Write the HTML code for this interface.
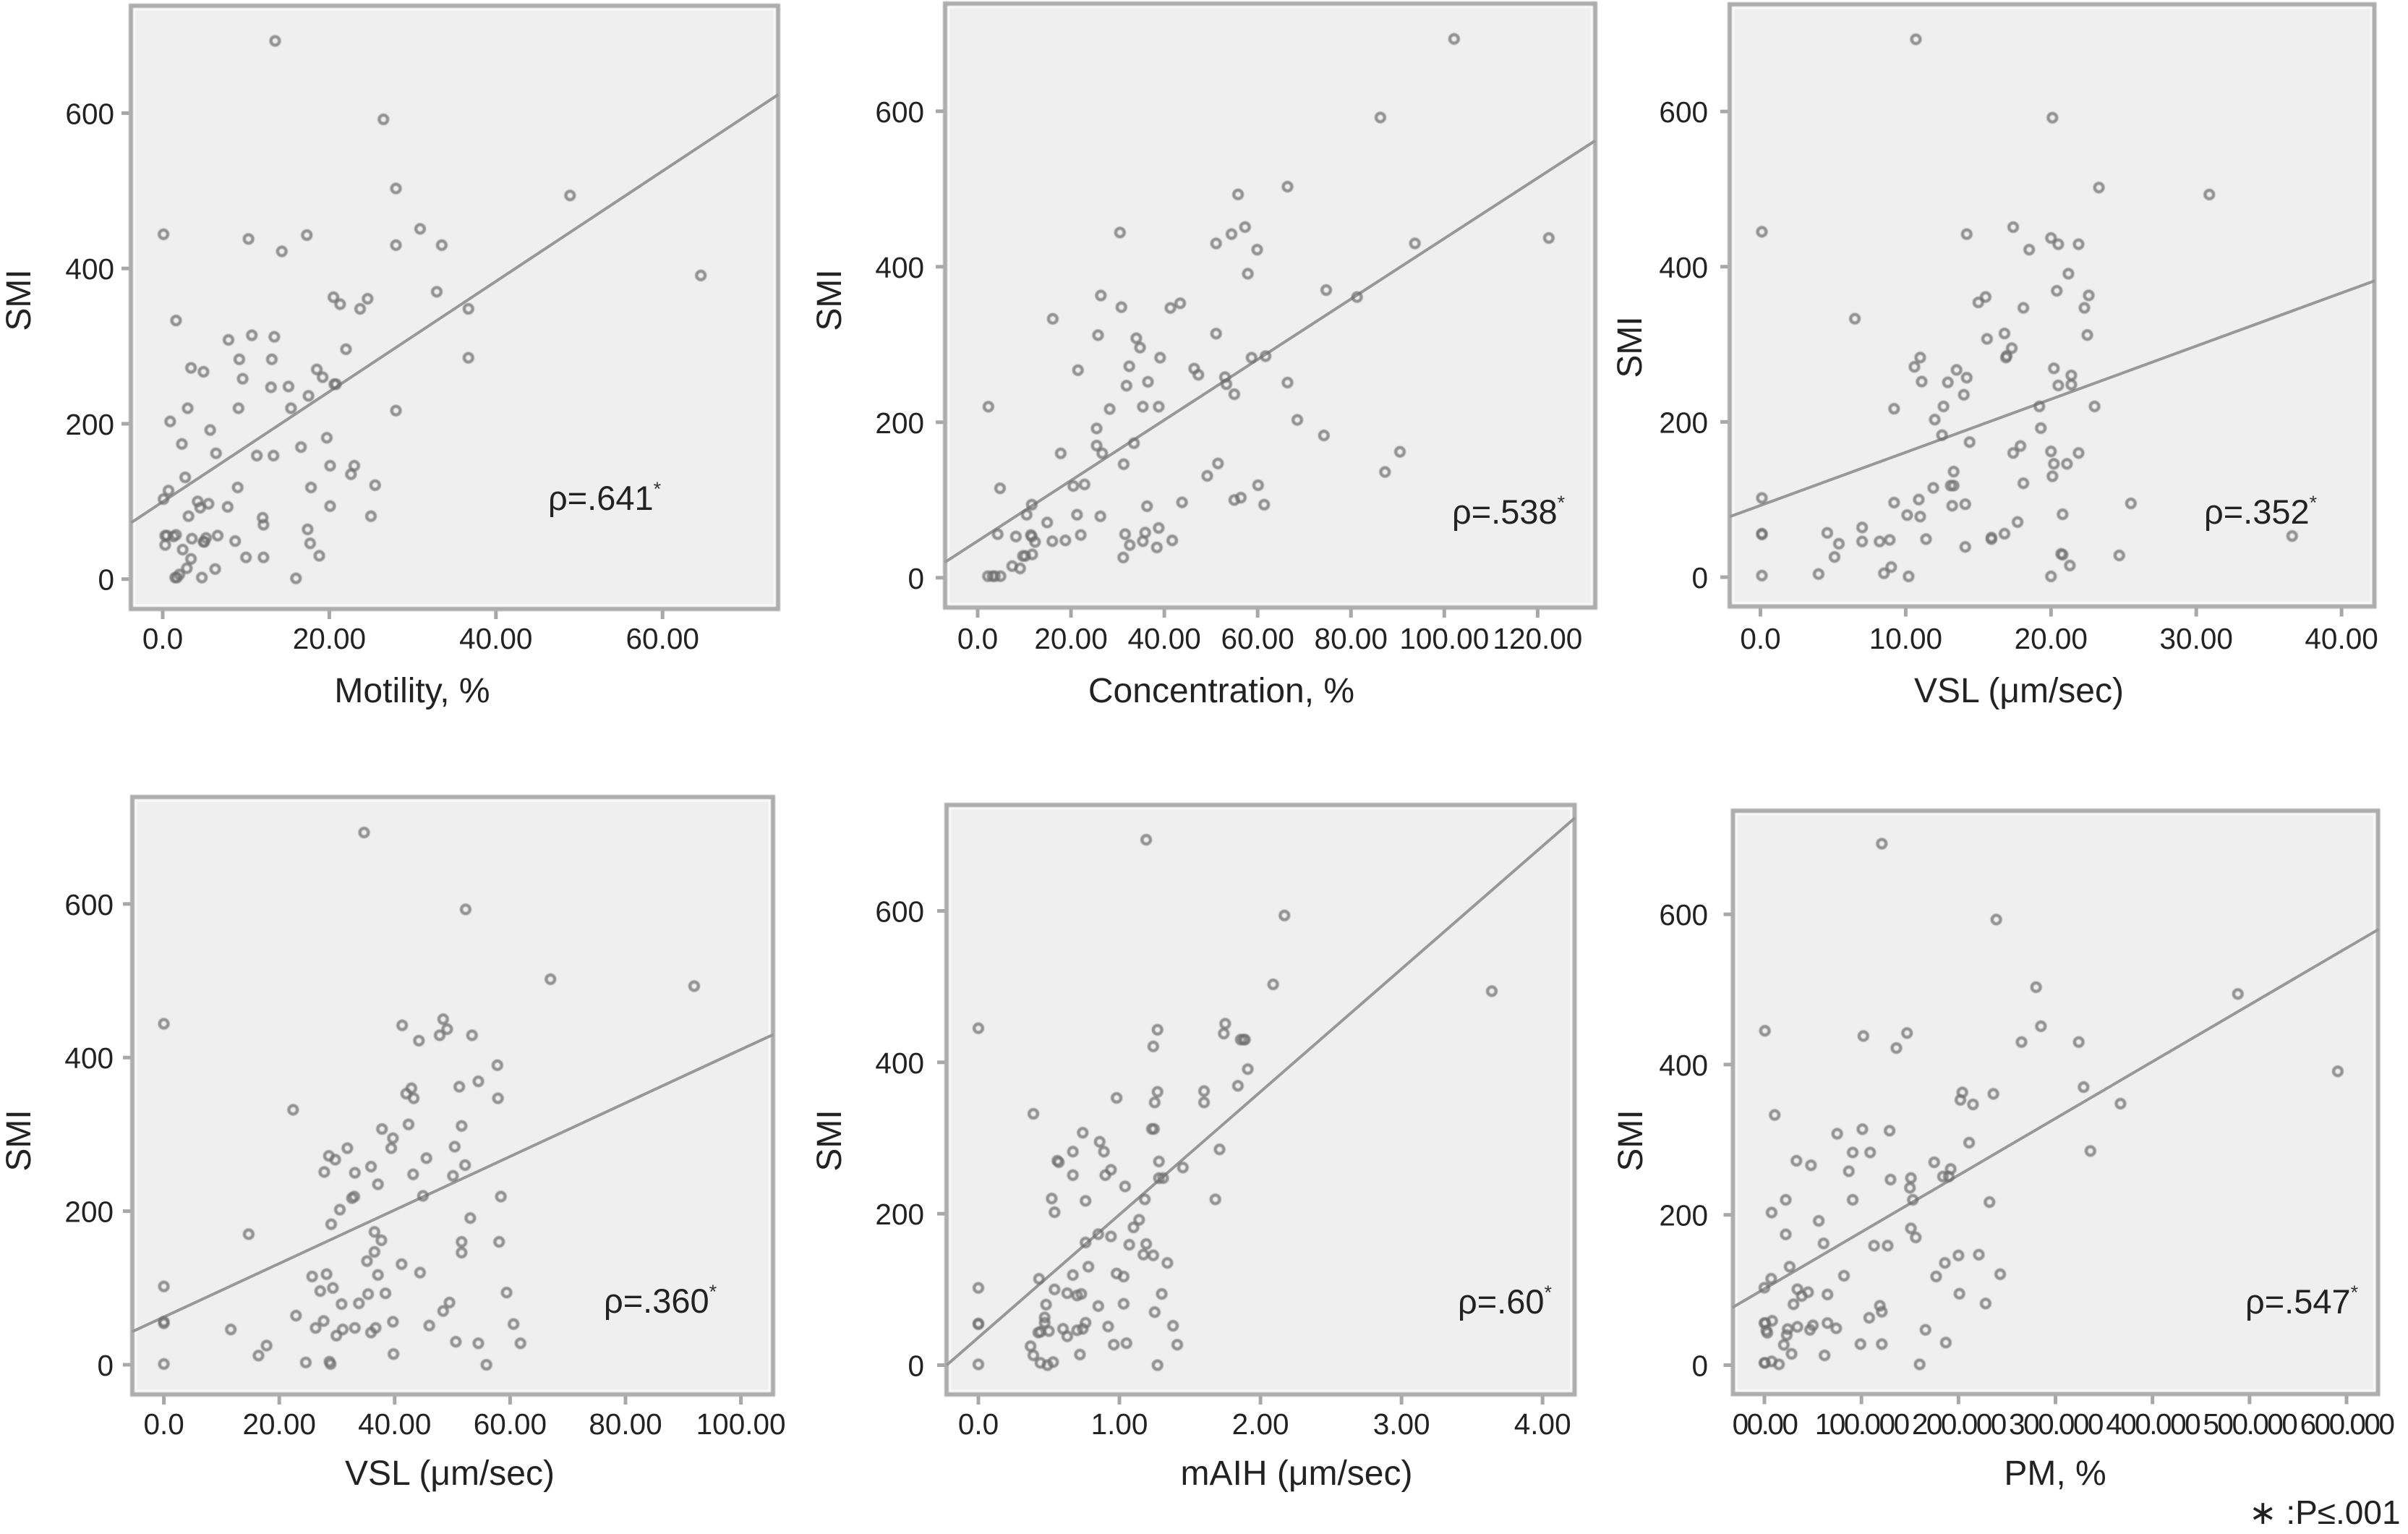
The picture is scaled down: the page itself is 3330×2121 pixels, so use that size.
<!DOCTYPE html>
<html lang="en">
<head>
<meta charset="utf-8">
<title>SMI scatter plots</title>
<style>
html,body{margin:0;padding:0;background:#fff;}
svg{display:block;font-family:"Liberation Sans",sans-serif;}
.tick-label{font-size:40.5px;fill:#222;}
.pm .tick-label{letter-spacing:-2.5px;}
.axis-title{font-size:48px;fill:#222;text-anchor:middle;}
.rho{font-size:47px;fill:#222;}
.star{font-size:27px;fill:#333;}
</style>
</head>
<body>
<svg id="figure" width="3330" height="2121" viewBox="0 0 3330 2121" xmlns="http://www.w3.org/2000/svg">
<defs><filter id="soft" x="-5%" y="-5%" width="110%" height="110%"><feGaussianBlur stdDeviation="0.8"/></filter></defs>
<rect width="3330" height="2121" fill="#fff"/>

<g id="p1"></g>
<g id="p2"></g>
<g id="p3"></g>
<g id="p4"></g>
<g id="p5"></g>
<g id="p6" class="pm"></g>

<g>
<text class="axis-title" transform="translate(42,415) rotate(-90)">SMI</text>
<text class="axis-title" transform="translate(1163,415) rotate(-90)">SMI</text>
<text class="axis-title" transform="translate(2270,480) rotate(-90)">SMI</text>
<text class="axis-title" transform="translate(42,1577) rotate(-90)">SMI</text>
<text class="axis-title" transform="translate(1163,1577) rotate(-90)">SMI</text>
<text class="axis-title" transform="translate(2271,1577) rotate(-90)">SMI</text>
</g>

<g>
<text class="axis-title" x="570" y="971">Motility, %</text>
<text class="axis-title" x="1689" y="971">Concentration, %</text>
<text class="axis-title" x="2792" y="971">VSL (μm/sec)</text>
<text class="axis-title" x="622" y="2053">VSL (μm/sec)</text>
<text class="axis-title" x="1793" y="2053">mAIH (μm/sec)</text>
<text class="axis-title" x="2842" y="2053">PM, %</text>
</g>

<g>
<text class="rho" x="758" y="705">ρ=.641<tspan class="star" dy="-20">*</tspan></text>
<text class="rho" x="2008" y="724">ρ=.538<tspan class="star" dy="-20">*</tspan></text>
<text class="rho" x="3048" y="724">ρ=.352<tspan class="star" dy="-20">*</tspan></text>
<text class="rho" x="835" y="1815">ρ=.360<tspan class="star" dy="-20">*</tspan></text>
<text class="rho" x="2016" y="1816">ρ=.60<tspan class="star" dy="-20">*</tspan></text>
<text class="rho" x="3105" y="1816">ρ=.547<tspan class="star" dy="-20">*</tspan></text>
</g>

<text x="3110" y="2107" font-size="46" fill="#222">∗ :P≤.001</text>
</svg>

<script>
const smiTicks = [0, 200, 400, 600];
const smiTickLabels = ["0", "200", "400", "600"];

const motilityTicks = [0, 20, 40, 60];
const motilityTickLabels = ["0.0", "20.00", "40.00", "60.00"];
const motilityX = [13.5,26.5,28.0,48.9,0.1,10.3,17.3,14.3,30.9,28.0,33.5,64.6,20.5,21.3,24.6,23.7,32.9,36.7,1.6,7.9,10.7,13.4,22.0,9.2,13.1,36.7,3.4,4.9,18.5,19.2,9.6,13.0,15.1,20.6,20.8,17.5,3.0,9.1,15.4,28.0,0.9,5.7,19.7,2.3,16.6,6.4,11.3,13.3,23.0,20.1,22.6,2.7,25.5,9.0,17.8,0.7,0.1,4.2,5.5,4.5,7.8,20.1,3.1,12.0,25.0,12.1,17.4,0.3,0.5,1.6,1.3,0.3,3.5,6.6,5.2,4.9,5.0,8.7,17.7,2.4,10.0,12.1,18.8,3.4,2.9,6.3,2.0,1.5,1.7,4.7,16.0];
const motilityY = [693,592,503,494,444,438,443,422,451,430,430,391,363,354,361,348,370,348,333,308,314,312,296,283,283,285,272,267,270,260,258,247,248,251,251,236,220,220,220,217,203,192,182,174,170,162,159,159,146,146,135,131,121,118,118,114,103,100,97,92,93,94,81,79,81,70,64,56,56,57,55,44,52,56,53,48,48,49,46,38,28,28,30,26,14,13,6,2,2,2,1];
const motilityLineX = [-3.8, 73.9];
const motilityLineY = [72.5, 624];

const concentrationTicks = [0, 20, 40, 60, 80, 100, 120];
const concentrationTickLabels = ["0.0", "20.00", "40.00", "60.00", "80.00", "100.00", "120.00"];
const concentrationX = [102.1,86.3,66.4,55.8,57.3,54.4,30.5,51.1,59.9,93.7,122.4,57.9,74.7,81.3,26.4,30.8,41.3,43.4,16.1,25.8,51.1,34.0,34.8,39.1,58.7,61.7,21.5,32.5,46.4,47.3,53.0,53.3,36.5,31.9,66.4,55.0,2.3,28.3,35.4,38.8,68.5,25.5,74.2,33.5,25.5,26.7,17.8,90.5,31.3,51.5,87.3,49.2,22.9,20.5,60.1,4.8,55.0,56.4,43.8,61.4,36.3,11.6,10.5,21.3,26.3,14.9,38.8,4.3,8.2,11.4,11.6,12.3,22.1,31.6,35.9,35.4,41.7,16.0,18.8,32.6,38.4,11.7,9.7,10.2,31.2,7.4,9.1,2.2,3.2,3.7,4.9];
const concentrationY = [693,592,503,493,451,442,444,430,422,430,437,391,370,361,363,348,347,353,333,312,314,308,296,283,283,285,267,272,269,261,258,249,252,247,251,236,220,217,220,220,203,192,183,173,170,160,160,162,146,147,136,131,120,118,119,115,100,103,97,94,92,94,81,81,79,71,64,56,53,55,53,46,55,56,58,47,48,47,48,42,39,30,28,28,26,15,12,2,2,2,2];
const concentrationLineX = [-7.0, 132.3];
const concentrationLineY = [20, 562];

const vslTopTicks = [0, 10, 20, 30, 40];
const vslTopTickLabels = ["0.0", "10.00", "20.00", "30.00", "40.00"];
const vslTopX = [10.7,20.1,23.3,30.9,0.1,14.2,17.4,18.5,20.0,20.5,21.9,21.2,20.4,22.6,22.3,15.5,15.0,18.1,6.5,22.5,16.8,15.6,17.3,16.9,16.95,11.0,10.6,13.5,14.2,20.2,21.4,11.1,12.9,20.5,21.4,14.0,9.2,12.6,19.2,23.0,12.0,19.3,12.5,14.4,17.9,17.4,20.0,21.9,20.2,21.1,13.3,20.1,18.1,13.1,13.3,11.9,0.1,10.9,9.2,14.1,13.2,25.5,10.1,11.0,20.8,17.7,7.0,4.6,0.1,0.1,16.8,36.6,15.9,15.9,11.4,8.9,8.2,7.0,5.4,14.1,5.1,24.7,20.7,20.8,21.3,9.0,8.5,4.0,0.1,10.2,20.0];
const vslTopY = [693,592,502,493,445,442,451,422,437,429,429,391,369,363,347,361,354,347,333,312,314,307,295,283,285,283,271,267,257,269,260,252,251,247,248,235,217,220,220,220,203,192,183,174,169,160,162,160,146,146,136,130,121,118,118,115,102,100,96,94,92,95,80,78,81,71,64,57,56,55,56,53,51,49,49,48,46,46,43,39,26,28,30,29,15,13,5,4,2,1,1];
const vslTopLineX = [-2.1, 42.3];
const vslTopLineY = [78, 382];

const vslBottomTicks = [0, 20, 40, 60, 80, 100];
const vslBottomTickLabels = ["0.0", "20.00", "40.00", "60.00", "80.00", "100.00"];
const vslBottomX = [34.7,52.3,67.0,91.9,0,41.3,48.4,49.1,47.8,53.4,44.2,57.8,54.5,51.2,42.9,42.0,43.3,57.9,22.4,42.4,51.6,37.8,39.7,50.4,39.4,31.8,28.6,29.7,45.5,52.2,35.9,27.8,33.1,43.2,50.1,37.1,32.6,33.0,44.9,58.4,30.5,53.1,29.0,14.7,36.5,37.7,51.6,58.1,36.5,51.6,35.2,41.2,44.4,28.2,37.1,25.7,0,29.3,27.1,59.4,38.4,35.4,30.8,33.8,49.5,48.4,22.9,39.7,0,0,27.7,60.6,46.0,26.3,36.7,33.1,31.0,11.6,35.9,29.9,17.8,50.6,54.5,61.8,16.4,39.8,24.6,28.7,28.9,0,55.9];
const vslBottomY = [693,593,502,493,444,442,450,437,429,429,422,390,369,362,360,353,347,347,332,313,311,307,295,284,282,282,272,267,269,260,258,251,250,248,246,235,217,219,220,219,202,191,183,170,173,162,160,160,147,146,135,131,120,118,117,115,102,100,96,94,93,92,79,80,81,70,64,56,56,54,57,53,51,48,48,48,46,46,42,38,25,30,28,28,12,14,3,4,1,1,0];
const vslBottomLineX = [-5.5, 105.6];
const vslBottomLineY = [43, 430];

const maihTicks = [0, 1, 2, 3, 4];
const maihTickLabels = ["0.0", "1.00", "2.00", "3.00", "4.00"];
const maihX = [1.19,2.17,2.09,3.64,0,1.27,1.75,1.74,1.86,1.88,1.89,1.24,1.91,1.84,1.27,1.60,1.60,1.25,0.98,0.39,1.23,1.245,0.74,0.86,0.89,0.67,1.71,0.56,0.57,1.28,1.45,0.94,0.90,0.67,1.28,1.31,1.04,0.52,0.76,1.18,1.68,0.54,1.14,1.10,0.85,0.94,0.76,1.07,1.19,1.17,1.24,1.34,0.78,0.67,0.98,1.03,0.43,0,0.54,0.63,0.73,0.70,1.30,0.48,0.85,1.03,1.25,0.47,0,0,0.47,0.76,1.38,0.92,0.60,0.74,0.70,0.50,0.44,0.425,0.63,0.96,1.05,1.41,0.37,0.72,0.39,0,0.44,0.49,0.53,1.27];
const maihY = [694,594,503,494,445,443,451,438,430,430,430,421,391,369,361,362,347,347,353,332,312,312,307,295,282,282,285,270,268,269,261,258,251,251,247,247,236,220,217,219,219,202,192,182,173,170,162,159,160,146,145,135,130,119,121,117,114,102,100,95,94,92,94,80,78,81,70,63,55,54,56,56,52,51,48,48,46,45,44,43,38,27,29,27,25,14,13,1,3,0,4,0];
const maihLineX = [-0.225, 4.23];
const maihLineY = [0, 723];

const pmTicks = [0, 100, 200, 300, 400, 500, 600];
const pmTickLabels = ["00.00", "100.000", "200.000", "300.000", "400.000", "500.000", "600.000"];
const pmX = [121,239,280,488,0.5,102,147,136,285,265,324,591,204,202,215,236,329,367,10.6,75,101,129,211,91,109,336,33,48,175,192,87,130,151,184,190,150,22,91,153,232,7.4,56,151,22,156,61,113,127,200,221,186,26,243,82,177,7,0,34,45,38.5,65,201,30,119,228,121,108,8,0,1,2,3,24,34,47,50,65,74,23,166,20,99,121,187,28,62,7.4,0,0.5,15,160];
const pmY = [694,593,503,494,445,438,442,422,451,430,430,391,363,353,347,361,370,348,333,308,314,312,296,283,283,285,272,266,270,261,258,247,249,251,251,236,220,220,220,217,203,192,182,174,170,162,159,159,146,147,136,131,121,119,118,115,103,101,97,92,94,95,81,79,82,71,63,59,56,56,46,43,48,51,47,53,56,49,40,47,27,28,28,30,15,13,5,3,3,1,1];
const pmLineX = [-33, 633];
const pmLineY = [76.6, 580];

const layouts = [
  {id:"p1", key:"motility", left:181, right:1076, top:8, bottom:842, x0:225, kx:11.52, y0:800.7, ky:1.0738, labelY:897, yLabelX:158, xs:motilityX, ys:motilityY, lx:motilityLineX, ly:motilityLineY, ticks:motilityTicks, labels:motilityTickLabels, notch:24},
  {id:"p2", key:"concentration", left:1307, right:2206, top:5, bottom:840, x0:1352, kx:6.453, y0:798.8, ky:1.075, labelY:897, yLabelX:1278, xs:concentrationX, ys:concentrationY, lx:concentrationLineX, ly:concentrationLineY, ticks:concentrationTicks, labels:concentrationTickLabels, notch:22},
  {id:"p3", key:"vsl-top", left:2392, right:3283.5, top:6, bottom:838.5, x0:2434.5, kx:20.09, y0:798, ky:1.0731, labelY:897, yLabelX:2362, xs:vslTopX, ys:vslTopY, lx:vslTopLineX, ly:vslTopLineY, ticks:vslTopTicks, labels:vslTopTickLabels, notch:22},
  {id:"p4", key:"vsl-bottom", left:183, right:1069, top:1102, bottom:1928, x0:226.6, kx:7.98, y0:1887, ky:1.0619, labelY:1983, yLabelX:157, xs:vslBottomX, ys:vslBottomY, lx:vslBottomLineX, ly:vslBottomLineY, ticks:vslBottomTicks, labels:vslBottomTickLabels, notch:0},
  {id:"p5", key:"maih", left:1309, right:2177.5, top:1113, bottom:1928, x0:1353, kx:195.05, y0:1887.5, ky:1.0467, labelY:1983, yLabelX:1278, xs:maihX, ys:maihY, lx:maihLineX, ly:maihLineY, ticks:maihTicks, labels:maihTickLabels, notch:0},
  {id:"p6", key:"pm", left:2396.5, right:3288.5, top:1121, bottom:1927.5, x0:2440, kx:1.3417, y0:1887.5, ky:1.0389, labelY:1983, yLabelX:2362, xs:pmX, ys:pmY, lx:pmLineX, ly:pmLineY, ticks:pmTicks, labels:pmTickLabels, notch:1136}
];

const NS = "http://www.w3.org/2000/svg";
function make(tag, parent, attrs) {
  const el = document.createElementNS(NS, tag);
  for (const k in attrs) el.setAttribute(k, attrs[k]);
  parent.appendChild(el);
  return el;
}

layouts.forEach(function (p) {
  const root = document.getElementById(p.id);
  const xScale = function (v) { return p.x0 + v * p.kx; };
  const yScale = function (v) { return p.y0 - v * p.ky; };

  p.ticks.forEach(function (t, i) {
    const tick = make("line", root, {x1:xScale(t), x2:xScale(t), y1:p.bottom, y2:p.bottom+14, stroke:"#a8a8a8", "stroke-width":5});
    
    
    const lab = make("text", root, {x:xScale(t), y:p.labelY, "text-anchor":"middle", class:"tick-label"});
    lab.textContent = p.labels[i];
    
    
  });

  smiTicks.forEach(function (t, i) {
    const tick = make("line", root, {x1:p.left-13, x2:p.left, y1:yScale(t), y2:yScale(t), stroke:"#a8a8a8", "stroke-width":5});
    
    
    const lab = make("text", root, {x:p.yLabelX, y:yScale(t)+15, "text-anchor":"end", class:"tick-label", style:"letter-spacing:0"});
    lab.textContent = smiTickLabels[i];
    
    
  });

  const frame = make("rect", root, {x:p.left, y:p.top, width:p.right-p.left, height:p.bottom-p.top, fill:"#efefef", stroke:"#adadad", "stroke-width":6, filter:"url(#soft)"});
  
  

  const halo = make("rect", root, {x:p.left+5, y:p.top+5, width:p.right-p.left-10, height:p.bottom-p.top-10, fill:"none", stroke:"#f8f8f8", "stroke-width":3});
  
  

  const line = make("line", root, {x1:xScale(p.lx[0]), y1:yScale(p.ly[0]), x2:xScale(p.lx[1]), y2:yScale(p.ly[1]), stroke:"#989898", "stroke-width":4});
  
  

  const marks = make("g", root, {filter:"url(#soft)"});
  
  
  p.xs.forEach(function (x, i) {
    const dot = make("circle", marks, {cx:xScale(x), cy:yScale(p.ys[i]), r:5.9, fill:"none", stroke:"#6e6e6e", "stroke-width":4.3, "stroke-opacity":0.72});
    
    
  });

  if (p.notch) {
    const mark = make("line", root, {x1:p.right+2, x2:p.right+2, y1:p.notch-8, y2:p.notch+8, stroke:"#666", "stroke-width":5, filter:"url(#soft)"});
    
    
  }
});
</script>
</body>
</html>
